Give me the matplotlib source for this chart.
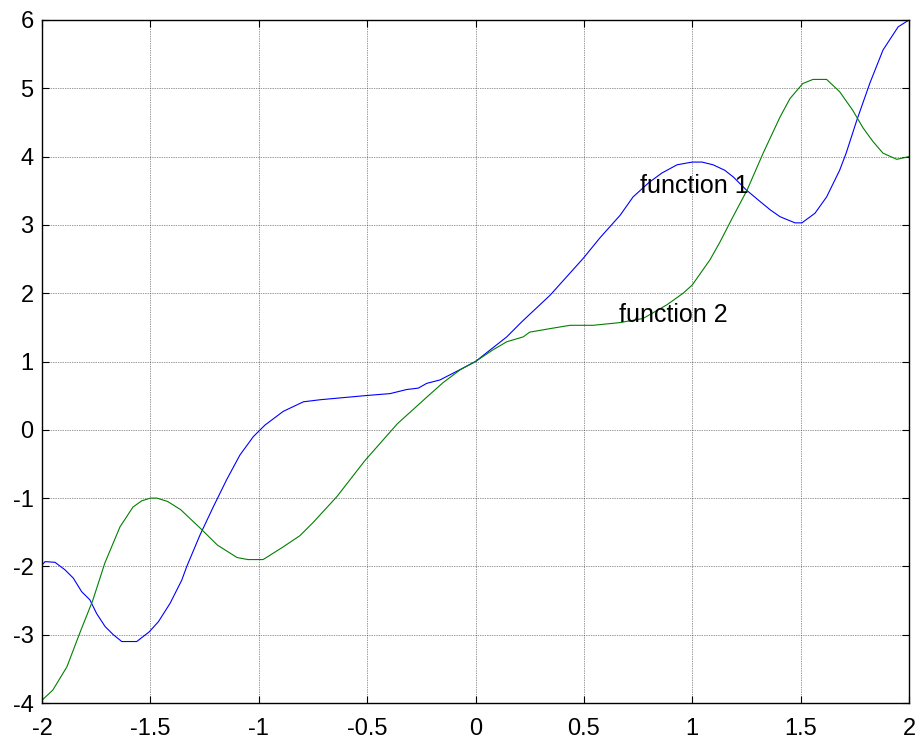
import numpy as np
import matplotlib
matplotlib.use("Agg")
import matplotlib.pyplot as plt

plt.rcParams['font.family'] = ['Liberation Sans', 'DejaVu Sans']

# function 1 (blue)
x1 = [-2.0, -1.986, -1.94, -1.894, -1.856, -1.817, -1.779, -1.748, -1.709, -1.671,
      -1.632, -1.563, -1.506, -1.463, -1.409, -1.355, -1.332, -1.271, -1.21, -1.148,
      -1.087, -1.025, -0.971, -0.887, -0.794, -0.717, -0.51, -0.394, -0.317, -0.264,
      -0.225, -0.164, -0.072, 0.0, 0.144, 0.213, 0.344, 0.497, 0.574, 0.667,
      0.727, 0.80, 0.86, 0.93, 1.0, 1.045, 1.096, 1.15, 1.19, 1.25, 1.31, 1.36, 1.405,
      1.474, 1.506, 1.566, 1.62, 1.68, 1.71, 1.76, 1.82, 1.88, 1.95, 2.0]
y1 = [-1.98, -1.93, -1.94, -2.05, -2.17, -2.37, -2.49, -2.69, -2.88, -3.00,
      -3.10, -3.10, -2.96, -2.81, -2.54, -2.20, -2.00, -1.54, -1.13, -0.73,
      -0.37, -0.10, 0.07, 0.27, 0.41, 0.44, 0.50, 0.53, 0.59, 0.61,
      0.68, 0.73, 0.88, 1.0, 1.36, 1.58, 1.97, 2.51, 2.81, 3.14,
      3.41, 3.62, 3.76, 3.88, 3.92, 3.92, 3.88, 3.80, 3.70, 3.51, 3.35, 3.22, 3.12,
      3.03, 3.03, 3.17, 3.41, 3.80, 4.05, 4.54, 5.08, 5.56, 5.90, 6.0]

# function 2 (green)
x2 = [-2.0, -1.95, -1.885, -1.825, -1.765, -1.71, -1.64, -1.58, -1.54, -1.5, -1.47,
      -1.42, -1.36, -1.27, -1.19, -1.10, -1.05, -0.98, -0.89, -0.81, -0.75, -0.64,
      -0.51, -0.36, -0.224, -0.15, -0.07, 0.0, 0.08, 0.145, 0.22, 0.25,
      0.36, 0.436, 0.543, 0.667, 0.773, 0.883, 0.958, 1.0, 1.082, 1.128,
      1.188, 1.253, 1.327, 1.405, 1.451, 1.51, 1.557, 1.62, 1.68, 1.74,
      1.788, 1.834, 1.88, 1.944, 2.0]
y2 = [-3.96, -3.81, -3.47, -2.97, -2.49, -1.95, -1.42, -1.13, -1.04, -1.0, -1.0,
      -1.05, -1.17, -1.44, -1.69, -1.87, -1.90, -1.90, -1.72, -1.55, -1.36, -0.98,
      -0.45, 0.09, 0.48, 0.69, 0.88, 1.0, 1.17, 1.29, 1.36, 1.43,
      1.49, 1.53, 1.53, 1.57, 1.63, 1.83, 2.0, 2.12, 2.49, 2.75,
      3.12, 3.51, 4.05, 4.58, 4.85, 5.07, 5.13, 5.13, 4.95, 4.68,
      4.42, 4.22, 4.05, 3.96, 4.0]

xticks = [-2, -1.5, -1, -0.5, 0, 0.5, 1, 1.5, 2]
yticks = [-4, -3, -2, -1, 0, 1, 2, 3, 4, 5, 6]

fig = plt.figure(figsize=(9.22, 7.43), dpi=100)
ax = fig.add_axes([42 / 922, 40 / 743, 867 / 922, 683 / 743])

ax.plot(x1, y1, color=(0, 0, 1), lw=0.8)
ax.plot(x2, y2, color=(0, 0.5, 0), lw=0.8)

ax.text(0.759, 3.467, 'function 1', fontsize=18, va='baseline', ha='left')
ax.text(0.663, 1.583, 'function 2', fontsize=18, va='baseline', ha='left')

ax.set_xlim(-2, 2)
ax.set_ylim(-4, 6)
ax.set_xticks(xticks)
ax.set_xticklabels(['-2', '-1.5', '-1', '-0.5', '0', '0.5', '1', '1.5', '2'])
ax.set_yticks(yticks)
ax.set_yticklabels([str(v) for v in yticks])

ax.grid(True, color='0.2', linestyle=(0, (1, 1.5)), linewidth=0.5)
ax.tick_params(direction='in', length=5, width=0.8, top=True, right=True,
               labelsize=17)
ax.tick_params(axis='x', pad=10.5)
ax.tick_params(axis='y', pad=6)
for s in ax.spines.values():
    s.set_linewidth(1.0)

fig.savefig('out.png', dpi=100)
